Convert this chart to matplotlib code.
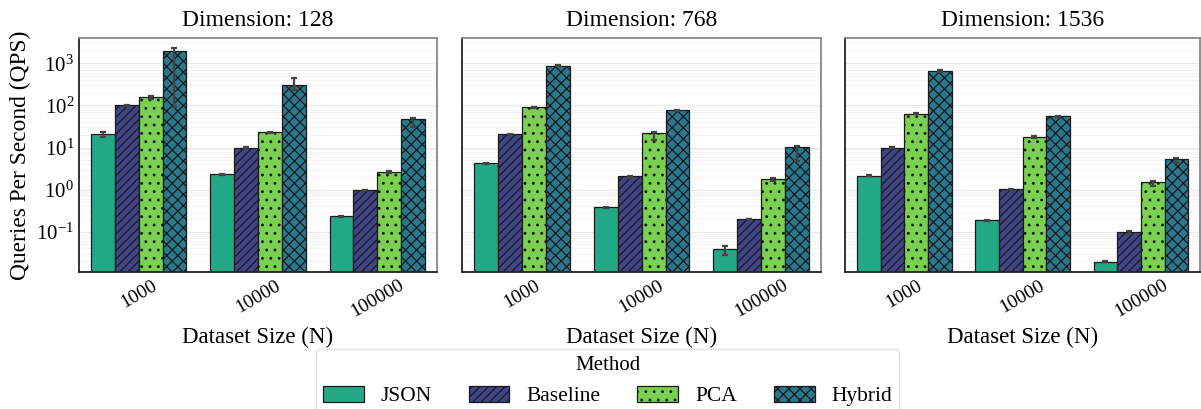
import numpy as np
import matplotlib
matplotlib.use("Agg")
from matplotlib import pyplot as plt
from matplotlib.ticker import LogLocator, NullFormatter

plt.rcParams['font.family'] = ['Liberation Serif', 'DejaVu Serif']
plt.rcParams['mathtext.fontset'] = 'custom'
plt.rcParams['mathtext.rm'] = 'Liberation Serif'
plt.rcParams['hatch.linewidth'] = 0.9

# Data
dimensions = [128, 768, 1536]
sizes = ['1000', '10000', '100000']
methods = ['JSON', 'Baseline', 'PCA', 'Hybrid']
colors = ['#22a884', '#414487', '#7ad151', '#2a788e']
hatches = ['', '////', '..', 'xxx']

# qps per method -> values per dataset size
qps_128 = {'JSON': [21, 2.3, 0.23], 'Baseline': [100, 10, 0.98],
           'PCA': [158, 23, 2.6], 'Hybrid': [1950, 305, 47]}
qps_768 = {'JSON': [4.2, 0.38, 0.039], 'Baseline': [20.5, 2.05, 0.2],
           'PCA': [90, 22, 1.8], 'Hybrid': [880, 77, 10.5]}
qps_1536 = {'JSON': [2.15, 0.185, 0.0195], 'Baseline': [10, 1.03, 0.098],
            'PCA': [63, 18, 1.48], 'Hybrid': [650, 55, 5.4]}

# error bar lower/upper bounds
lo_128 = {'JSON': [18, 2.2, 0.22], 'Baseline': [97, 9.8, 0.96],
          'PCA': [140, 22, 2.5], 'Hybrid': [93, 234, 31]}
hi_128 = {'JSON': [23, 2.4, 0.24], 'Baseline': [102, 10.2, 1.0],
          'PCA': [172, 24, 2.7], 'Hybrid': [2300, 455, 51]}
lo_768 = {'JSON': [4.1, 0.37, 0.028], 'Baseline': [20, 1.85, 0.195],
          'PCA': [88, 15, 1.6], 'Hybrid': [860, 75, 4.8]}
hi_768 = {'JSON': [4.3, 0.39, 0.045], 'Baseline': [21, 2.15, 0.205],
          'PCA': [92, 23, 1.9], 'Hybrid': [920, 79, 11]}
lo_1536 = {'JSON': [2.1, 0.18, 0.019], 'Baseline': [9.8, 1.0, 0.09],
           'PCA': [61, 17, 1.2], 'Hybrid': [630, 54, 4.2]}
hi_1536 = {'JSON': [2.2, 0.19, 0.02], 'Baseline': [10.2, 1.06, 0.104],
           'PCA': [65, 19, 1.6], 'Hybrid': [680, 56, 5.6]}

panels = [(qps_128, lo_128, hi_128), (qps_768, lo_768, hi_768), (qps_1536, lo_1536, hi_1536)]

fig = plt.figure(figsize=(12.01, 4.09), dpi=100)
lefts = [0.0658, 0.3847, 0.7036]
widths = [0.298, 0.299, 0.2956]
axes = []
for i in range(3):
    if i == 0:
        ax = fig.add_axes([lefts[i], 0.335, widths[i], 0.572])
    else:
        ax = fig.add_axes([lefts[i], 0.335, widths[i], 0.572], sharey=axes[0])
    axes.append(ax)

x = np.arange(len(sizes))
barWidth = 0.2
for i, ax in enumerate(axes):
    qps, lo, hi = panels[i]
    for j, m in enumerate(methods):
        pos = x - 0.3 + j * barWidth
        vals = np.array(qps[m])
        ax.bar(pos, vals, width=barWidth, color=colors[j], hatch=hatches[j],
               edgecolor='#1a1a1a', linewidth=0.9, label=m, zorder=2)
        yerr = [vals - np.array(lo[m]), np.array(hi[m]) - vals]
        ax.errorbar(pos, vals, yerr=yerr, fmt='none', ecolor='#444444',
                    elinewidth=1.6, capsize=2.2, capthick=1.6, zorder=3)
    ax.set_yscale('log')
    ax.set_ylim(0.011, 4000)
    ax.set_xlim(-0.5, 2.5)
    ax.yaxis.set_major_locator(LogLocator(base=10, numticks=10))
    ax.yaxis.set_minor_locator(LogLocator(base=10, subs=np.arange(2, 10), numticks=20))
    ax.yaxis.set_minor_formatter(NullFormatter())
    ax.grid(True, which='major', axis='y', color='#e8e8e8', linewidth=0.8, zorder=0)
    ax.grid(True, which='minor', axis='y', color='#f2f2f2', linewidth=0.6, zorder=0)
    ax.set_axisbelow(True)
    ax.set_xticks(x)
    ax.set_xticklabels(sizes, rotation=30, fontsize=14)
    ax.tick_params(axis='both', which='both', length=0, labelsize=14)
    ax.tick_params(axis='y', labelsize=15)
    ax.set_title('Dimension: {}'.format(dimensions[i]), fontsize=17, pad=9)
    ax.set_xlabel('Dataset Size (N)', fontsize=16.5)
    for s in ['top', 'right']:
        ax.spines[s].set_color('#888888')
        ax.spines[s].set_linewidth(1.3)
    for s in ['left', 'bottom']:
        ax.spines[s].set_color('#222222')
        ax.spines[s].set_linewidth(1.3)
    if i == 0:
        ax.set_ylabel('Queries Per Second (QPS)', fontsize=16.8)
    else:
        plt.setp(ax.get_yticklabels(), visible=False)

handles, labels = axes[0].get_legend_handles_labels()
leg = fig.legend(handles, labels, title='Method', loc='upper center', ncol=4,
                 bbox_to_anchor=(0.506, 0.146), fontsize=15.5, title_fontsize=15,
                 handlelength=1.9, handleheight=0.8, columnspacing=1.7,
                 frameon=True, fancybox=True, borderpad=0.3, borderaxespad=0)
leg.get_frame().set_edgecolor('#dddddd')

fig.savefig('out.png', dpi=100)
